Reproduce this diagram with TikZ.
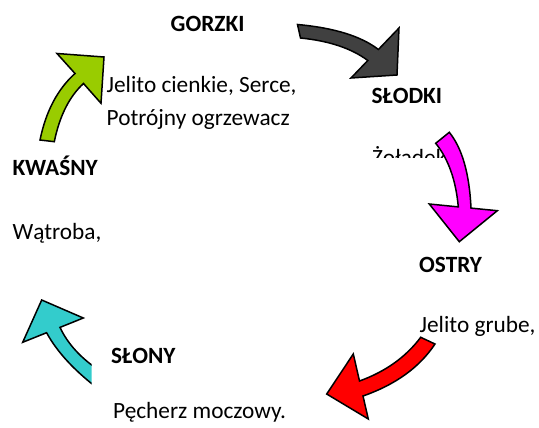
\documentclass[tikz,border=0pt]{standalone}
\usepackage{fontspec}
\setmainfont{Carlito}
\usetikzlibrary{calc}
\definecolor{arrdark}{HTML}{404040}
\definecolor{arrmag}{HTML}{FF00FF}
\definecolor{arrred}{HTML}{FF0000}
\definecolor{arrgreen}{HTML}{99CC00}
\definecolor{arrcyan}{HTML}{33CCCC}
\tikzset{
  lbl/.style={anchor=base west, inner sep=0pt, font=\fontsize{23.3}{33}\selectfont\bfseries},
  txt/.style={anchor=base west, inner sep=0pt, font=\fontsize{23.3}{33}\selectfont},
  arrshape/.style={draw=black, line width=1.5pt, line join=miter, miter limit=10},
}
\begin{document}
\begin{tikzpicture}[x=1pt,y=-1pt]
\useasboundingbox (0,0) rectangle (539,428);
% texts
\node[lbl] (gorzki) at (170.5,31.5) {GORZKI};
\node[txt] (jc1) at (106.5,92.7) {Jelito cienkie, Serce,};
\node[txt] (jc2) at (106.5,125.7) {Potrójny ogrzewacz};
\node[lbl] (slodki) at (371.5,103.3) {SŁODKI};
\begin{scope}
  \clip (360,140) rectangle (539,157.3);
  \node[txt] (zoladek) at (372,165) {Żołądek};
\end{scope}
\node[lbl] (ostry) at (419,272) {OSTRY};
\node[txt] (jgrube) at (419.5,332) {Jelito grube,};
\node[lbl] (slony) at (111,363.5) {SŁONY};
\node[txt] (pecherz) at (113,418.5) {Pęcherz moczowy.};
\node[lbl] (kwasny) at (12.5,175.5) {KWAŚNY};
\node[txt] (watroba) at (12.5,239) {Wątroba,};
% dark arrow (GORZKI -> SŁODKI)
\path[arrshape, fill=arrdark]
  (297.5,24.5) .. controls ($(297.5,24.5)!0.667!(352.4,29.5)$) and ($(378.4,49.5)!0.667!(352.4,29.5)$) .. (378.4,49.5)
  -- (399,28) -- (397,75) -- (351,78) -- (367.8,60.5)
  .. controls ($(367.8,60.5)!0.667!(343.4,42.3)$) and ($(300.5,38)!0.667!(343.4,42.3)$) .. (300.5,38) -- cycle;
% magenta arrow (SŁODKI -> OSTRY)
\path[arrshape, fill=arrmag]
  (449.3,132.3) .. controls ($(449.3,132.3)!0.667!(468.6,156.3)$) and ($(471,208.1)!0.667!(468.6,156.3)$) .. (471,208.1)
  -- (497.3,210.7) -- (459.3,241.7) -- (429.3,204) -- (458.3,206.9)
  .. controls ($(458.3,206.9)!0.667!(454.7,166.8)$) and ($(435.7,143.3)!0.667!(454.7,166.8)$) .. (435.7,143.3) -- cycle;
% red arrow (OSTRY -> SŁONY)
\path[arrshape, fill=arrred]
  (435,344) .. controls ($(435,344)!0.667!(411.9,378.9)$) and ($(363,396)!0.667!(411.9,378.9)$) .. (363,396)
  -- (368.3,419) -- (326.7,394) -- (353.3,354) -- (359.5,381)
  .. controls ($(359.5,381)!0.667!(398.6,366.8)$) and ($(420.7,337.3)!0.667!(398.6,366.8)$) .. (420.7,337.3) -- cycle;
% cyan arrow (SŁONY -> KWAŚNY)
\begin{scope}
  \clip (0,280) rectangle (91.7,400);
  \path[arrshape, fill=arrcyan]
    (100,370.9) .. controls ($(100,370.9)!0.667!(71.7,352.3)$) and ($(60,327.4)!0.667!(71.7,352.3)$) .. (60,327.4)
    -- (83.3,318) -- (41.7,300) -- (22.7,342.3) -- (46.6,332.7)
    .. controls ($(46.6,332.7)!0.667!(62.2,361.6)$) and ($(100,390.2)!0.667!(62.2,361.6)$) .. (100,390.2) -- cycle;
\end{scope}
% green arrow (KWAŚNY -> GORZKI)
\path[arrshape, fill=arrgreen]
  (40,140) .. controls ($(40,140)!0.667!(48.8,97.1)$) and ($(75,73.5)!0.667!(48.8,97.1)$) .. (75,73.5)
  -- (57,53.5) -- (104,57) -- (101,103.3) -- (83.5,83.5)
  .. controls ($(83.5,83.5)!0.667!(62.2,103.1)$) and ($(54.3,141.7)!0.667!(62.2,103.1)$) .. (54.3,141.7) -- cycle;
\end{tikzpicture}
\end{document}
